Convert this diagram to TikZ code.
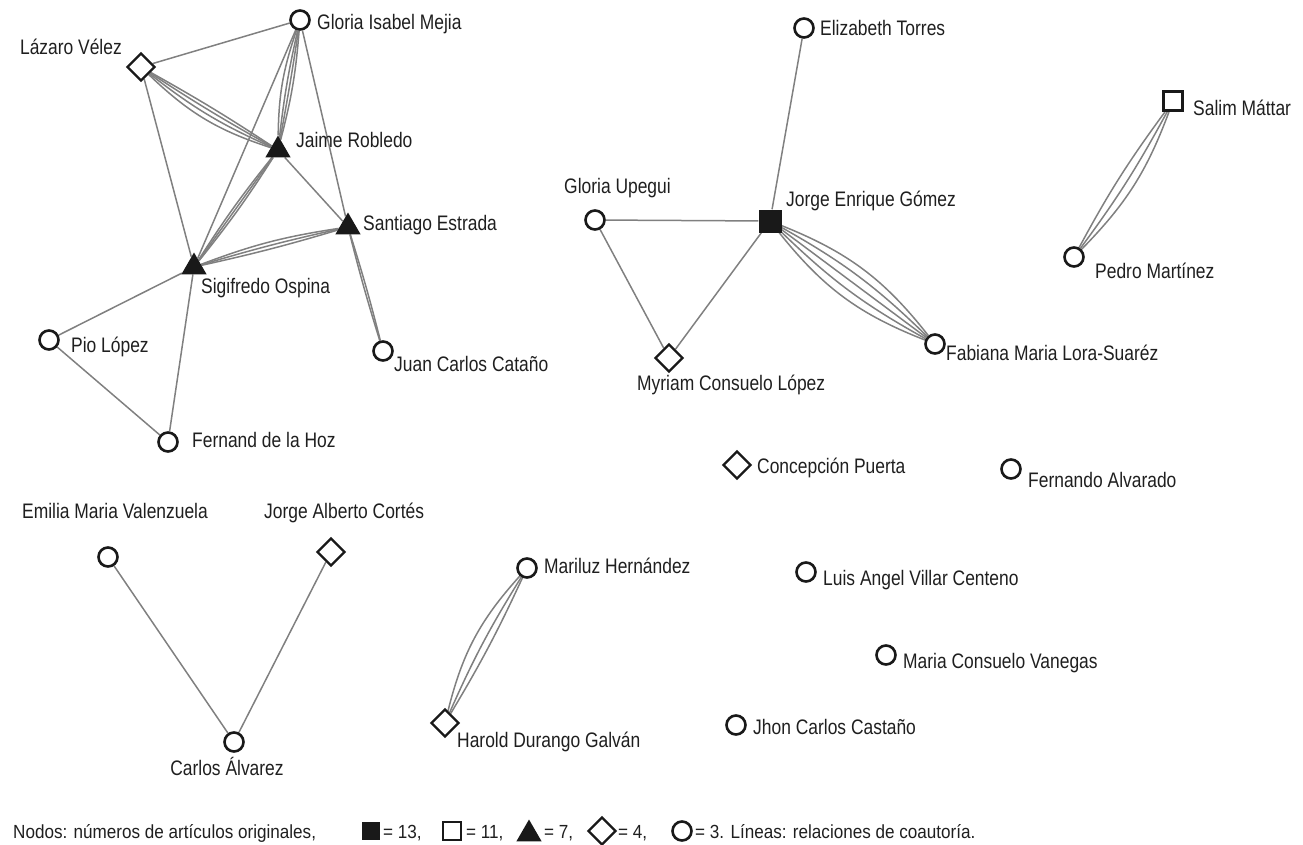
\documentclass[tikz,border=0pt]{standalone}
\usepackage{fontspec}
\setmainfont{Liberation Sans}[FakeStretch=0.83]
\newfontfamily\legfont{Liberation Sans}[FakeStretch=0.9]
\usetikzlibrary{shapes.geometric}
\pgfdeclarelayer{background}
\pgfsetlayers{background,main}
\tikzset{
 edge/.style={draw=black!50, line width=1.5pt},
 circ/.style={circle, draw=black!90, line width=2.6pt, fill=white, minimum size=19pt, inner sep=0pt},
 diam/.style={diamond, draw=black!90, line width=2.4pt, fill=white, minimum size=28pt, inner sep=0pt},
 tri/.style={regular polygon, regular polygon sides=3, fill=black!90, minimum size=29pt, inner sep=0pt},
 fsq/.style={rectangle, fill=black!90, minimum size=23pt, inner sep=0pt},
 osq/.style={rectangle, draw=black!90, line width=2.6pt, fill=white, minimum size=19pt, inner sep=0pt},
 lbl/.style={inner sep=0pt, font=\fontsize{21}{24}\selectfont, anchor=base west, text=black!88},
 leg/.style={inner sep=0pt, font=\legfont\fontsize{19}{22}\selectfont, anchor=base west, text=black!88},
}
\begin{document}
\begin{tikzpicture}[x=1pt,y=-1pt]
\path[use as bounding box] (0,0) rectangle (1303,844);
% nodes
\node[circ] (gim) at (300,20) {};
\node[diam] (laz) at (141,67) {};
\node[tri]  (jai) at (278,150) {};
\node[tri]  (san) at (348,227) {};
\node[tri]  (sig) at (194,267) {};
\node[circ] (pio) at (49,340) {};
\node[circ] (fer) at (168,442) {};
\node[circ] (jcc) at (383,351) {};
\node[circ] (eli) at (804,28) {};
\node[fsq]  (jeg) at (770,221) {};
\node[circ] (gup) at (595,220) {};
\node[diam] (myr) at (669,358) {};
\node[circ] (fab) at (935,344) {};
\node[diam] (con) at (737,465) {};
\node[circ] (fal) at (1011,469) {};
\node[osq]  (sal) at (1173,101) {};
\node[circ] (ped) at (1074,257) {};
\node[circ] (emi) at (108,557) {};
\node[diam] (jac) at (331,552) {};
\node[circ] (car) at (234,742) {};
\node[circ] (mar) at (527,568) {};
\node[diam] (har) at (445,723) {};
\node[circ] (lui) at (806,572) {};
\node[circ] (mcv) at (886,655) {};
\node[circ] (jhc) at (736,725) {};
% labels
\node[lbl] (tgim) at (317,29) {Gloria Isabel Mejia};
\node[lbl, anchor=base east] (tlaz) at (122,54) {Lázaro Vélez};
\node[lbl] (tjai) at (296,147) {Jaime Robledo};
\node[lbl] (tsan) at (363,230) {Santiago Estrada};
\node[lbl] (tsig) at (201,293) {Sigifredo Ospina};
\node[lbl] (tpio) at (71,352) {Pio López};
\node[lbl] (tfer) at (192,447) {Fernand de la Hoz};
\node[lbl] (tjcc) at (394,371) {Juan Carlos Cataño};
\node[lbl] (teli) at (820,35) {Elizabeth Torres};
\node[lbl] (tgup) at (564,193) {Gloria Upegui};
\node[lbl] (tjeg) at (786,206) {Jorge Enrique Gómez};
\node[lbl] (tmyr) at (637,390) {Myriam Consuelo López};
\node[lbl] (tfab) at (946,360) {Fabiana Maria Lora-Suaréz};
\node[lbl] (tcon) at (757,473) {Concepción Puerta};
\node[lbl] (tfal) at (1028,487) {Fernando Alvarado};
\node[lbl] (tsal) at (1193,115) {Salim Máttar};
\node[lbl] (tped) at (1095,278) {Pedro Martínez};
\node[lbl, anchor=base] (temi) at (115,518) {Emilia Maria Valenzuela};
\node[lbl] (tjac) at (264,518) {Jorge Alberto Cortés};
\node[lbl, anchor=base] (tcar) at (227,775) {Carlos Álvarez};
\node[lbl] (tmar) at (544,573) {Mariluz Hernández};
\node[lbl] (thar) at (457,747) {Harold Durango Galván};
\node[lbl] (tlui) at (823,585) {Luis Angel Villar Centeno};
\node[lbl] (tmcv) at (903,668) {Maria Consuelo Vanegas};
\node[lbl] (tjhc) at (753,734) {Jhon Carlos Castaño};
% edges
\begin{pgfonlayer}{background}
\draw[edge] (gim) -- (laz);
\draw[edge] (laz) -- (sig);
\draw[edge] (gim) -- (sig);
\draw[edge] (gim) -- (san);
\draw[edge] (jai) -- (san);
\draw[edge] (sig) -- (pio);
\draw[edge] (sig) -- (fer);
\draw[edge] (pio) -- (fer);
\foreach \b in {2,-2,-7,-13} \draw[edge] (laz) to[bend left=\b] (jai);
\foreach \b in {-9,-3,1,5} \draw[edge] (gim) to[bend left=\b] (jai);
\foreach \b in {-3,0,3} \draw[edge] (jai) to[bend left=\b] (sig);
\foreach \b in {6,2,-2} \draw[edge] (sig) to[bend left=\b] (san);
\foreach \b in {-1.5,1.5} \draw[edge] (san) to[bend left=\b] (jcc);
\draw[edge] (eli) -- (jeg);
\draw[edge] (gup) -- (jeg);
\draw[edge] (gup) -- (myr);
\draw[edge] (jeg) -- (myr);
\foreach \b in {-15,-7.5,0,7.5,15} \draw[edge] (jeg) to[bend left=\b] (fab);
\foreach \b in {-4,4,12} \draw[edge] (sal) to[bend left=\b] (ped);
\foreach \b in {-14,-4,3} \draw[edge] (mar) to[bend left=\b] (har);
\draw[edge] (emi) -- (car);
\draw[edge] (jac) -- (car);
\end{pgfonlayer}
% legend
\node[leg] (l0) at (13,838) {Nodos: números de artículos originales,};
\node[fsq, minimum size=18pt] (s1) at (371,831) {};
\node[leg] (l1) at (383,838) {= 13,};
\node[osq, minimum size=18pt] (s2) at (452,831) {};
\node[leg] (l2) at (466,838) {= 11,};
\node[tri] (s3) at (529,834) {};
\node[leg] (l3) at (544,838) {= 7,};
\node[diam] (s4) at (602,831) {};
\node[leg] (l4) at (618,838) {= 4,};
\node[circ] (s5) at (682,831) {};
\node[leg] (l5) at (695,838) {= 3. Líneas: relaciones de coautoría.};
\end{tikzpicture}
\end{document}
